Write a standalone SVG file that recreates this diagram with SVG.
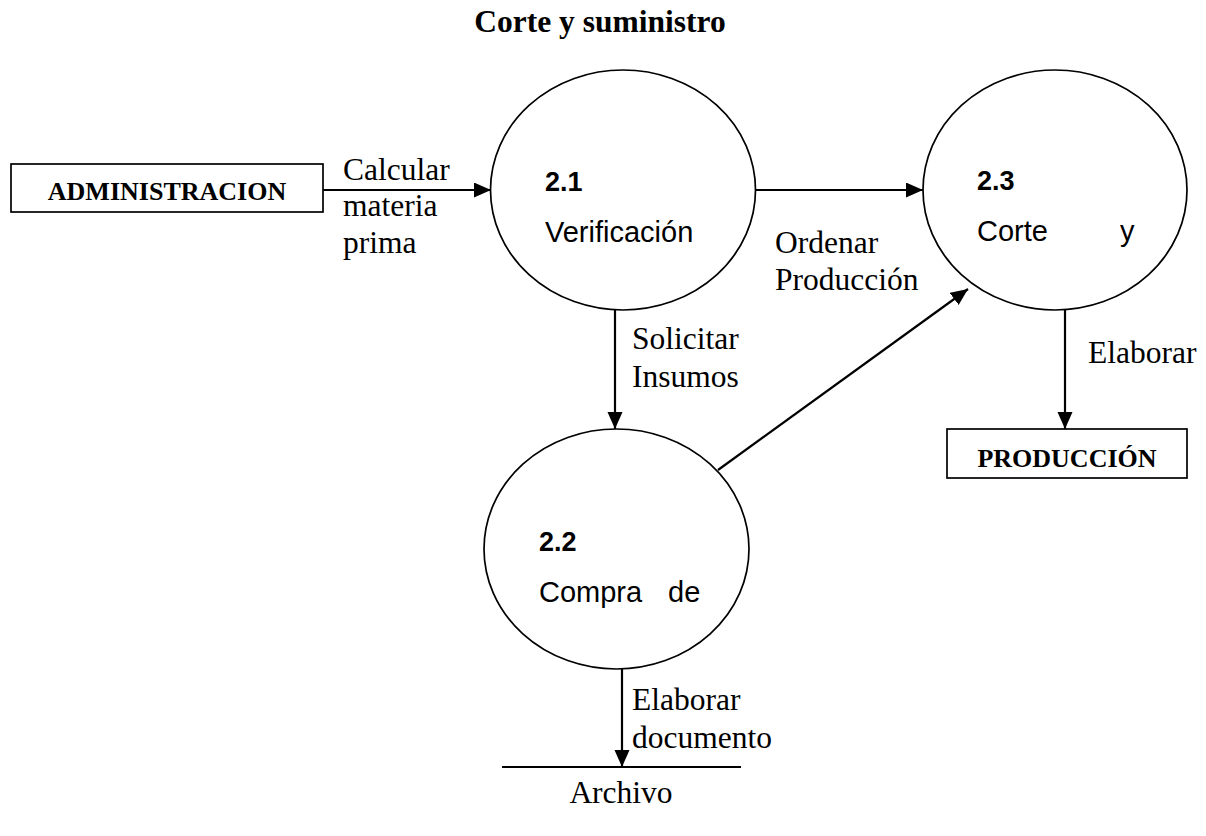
<svg xmlns="http://www.w3.org/2000/svg" width="1206" height="836" viewBox="0 0 1206 836">
<style>
.bg{fill:#fff}
.proc{fill:#fff;stroke:#000;stroke-width:1.7}
.ent{fill:#fff;stroke:#000;stroke-width:1.7}
.flow{fill:none;stroke:#000;stroke-width:2.2;marker-end:url(#arr)}
.store{stroke:#000;stroke-width:1.8}
.t{font-family:"Liberation Serif","Times New Roman",serif;font-size:31.5px;fill:#000}
.tb{font-family:"Liberation Serif","Times New Roman",serif;font-size:26px;font-weight:bold;fill:#000}
.title{font-family:"Liberation Serif","Times New Roman",serif;font-size:31.5px;font-weight:bold;fill:#000}
.a{font-family:"Liberation Sans",Arial,sans-serif;font-size:29px;fill:#000}
.ab{font-family:"Liberation Sans",Arial,sans-serif;font-size:27px;font-weight:bold;fill:#000}
</style>
<defs>
<marker id="arr" markerUnits="userSpaceOnUse" markerWidth="18" markerHeight="16" refX="17" refY="7.5" orient="auto">
<path d="M0,0 L17,7.5 L0,15 z" fill="#000"/>
</marker>
</defs>
<rect class="bg" x="0" y="0" width="1206" height="836"/>
<text class="title" x="600" y="32" text-anchor="middle">Corte y suministro</text>

<g id="connectors">
<line class="flow" x1="323" y1="190" x2="491" y2="190"/>
<line class="flow" x1="756" y1="190" x2="923" y2="190"/>
<line class="flow" x1="615" y1="310" x2="615" y2="429"/>
<line class="flow" x1="718" y1="470" x2="968" y2="289"/>
<line class="flow" x1="1065" y1="310" x2="1065" y2="429"/>
<line class="flow" x1="622" y1="669" x2="622" y2="767"/>
<text class="t" x="343" y="180">Calcular</text>
<text class="t" x="343" y="216">materia</text>
<text class="t" x="343" y="253">prima</text>
<text class="t" x="775" y="253">Ordenar</text>
<text class="t" x="775" y="290">Producción</text>
<text class="t" x="632" y="349">Solicitar</text>
<text class="t" x="632" y="387">Insumos</text>
<text class="t" x="1088" y="363">Elaborar</text>
<text class="t" x="632" y="710">Elaborar</text>
<text class="t" x="632" y="748">documento</text>
</g>

<g id="administracion">
<rect class="ent" x="11" y="164" width="312" height="48"/>
<text class="tb" x="167" y="200" text-anchor="middle">ADMINISTRACION</text>
</g>

<g id="p21">
<ellipse class="proc" cx="623" cy="190" rx="132.5" ry="120"/>
<text class="ab" x="545" y="191">2.1</text>
<text class="a" x="545" y="242">Verificación</text>
</g>

<g id="p23">
<ellipse class="proc" cx="1055" cy="190" rx="132" ry="120"/>
<text class="ab" x="977" y="190">2.3</text>
<text class="a" x="977" y="241">Corte<tspan x="1120">y</tspan></text>
</g>

<g id="p22">
<ellipse class="proc" cx="616.5" cy="549" rx="132.5" ry="120"/>
<text class="ab" x="539" y="551">2.2</text>
<text class="a" x="539" y="602">Compra<tspan x="668">de</tspan></text>
</g>

<g id="produccion">
<rect class="ent" x="947" y="429" width="240" height="49"/>
<text class="tb" x="1067" y="467" text-anchor="middle">PRODUCCIÓN</text>
</g>

<g id="archivo">
<line class="store" x1="502" y1="767" x2="741" y2="767"/>
<text class="t" x="621" y="803" text-anchor="middle">Archivo</text>
</g>
</svg>
